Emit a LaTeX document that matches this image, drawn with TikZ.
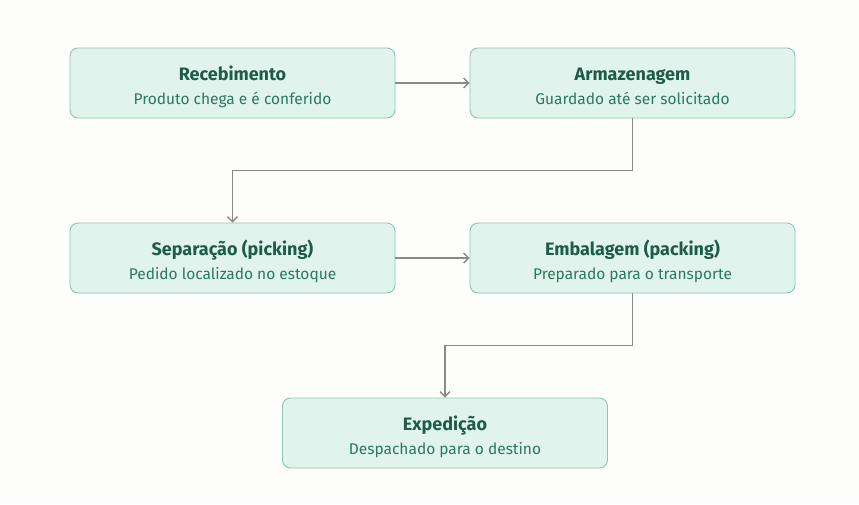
\documentclass[tikz,border=0pt]{standalone}
\usepackage{fontspec}
\setmainfont{Fira Sans}
\usetikzlibrary{arrows.meta}
\definecolor{bg}{HTML}{FDFDFB}
\definecolor{boxfill}{HTML}{E0F3EC}
\definecolor{boxline}{HTML}{8DC6B1}
\definecolor{titlec}{HTML}{1D5C45}
\definecolor{subc}{HTML}{2B7A5B}
\definecolor{arrowc}{HTML}{8A8A86}
\tikzset{
  stagebox/.style={draw=boxline, fill=boxfill, line width=0.9pt, rounded corners=8pt,
    minimum width=325pt, minimum height=70pt, inner sep=0pt},
  titletext/.style={text=titlec, font=\fontsize{18}{20}\selectfont\bfseries, inner sep=0pt, anchor=base},
  subtext/.style={text=subc, font=\fontsize{15.5}{17}\selectfont, inner sep=0pt, anchor=base},
  flow/.style={draw=arrowc, line width=1.7pt, -{Straight Barb[length=5pt,width=10pt,line width=1.4pt]}}
}
\newcommand{\stage}[4]{%
  \node[stagebox] (#1) at (#2) {};
  \node[titletext] (#1t) at ([yshift=3pt]#1.center) {#3};
  \node[subtext] (#1s) at ([yshift=-21.5pt]#1.center) {#4};
}
\begin{document}
\begin{tikzpicture}[x=1pt,y=-1pt]
\fill[bg] (0,0) rectangle (859,504);
\useasboundingbox (0,0) rectangle (859,504);
\stage{rec}{232.5,83}{Recebimento}{Produto chega e é conferido}
\stage{arm}{632.5,83}{Armazenagem}{Guardado até ser solicitado}
\stage{sep}{232.5,258}{Separação (picking)}{Pedido localizado no estoque}
\stage{emb}{632.5,258}{Embalagem (packing)}{Preparado para o transporte}
\stage{exp}{445,433}{Expedição}{Despachado para o destino}
\draw[flow] (rec.east) -- (arm.west);
\draw[flow] (sep.east) -- (emb.west);
\draw[flow] (arm.south) -- ++(0,52) -| (sep.north);
\draw[flow] (emb.south) -- ++(0,52) -| (exp.north);
\end{tikzpicture}
\end{document}
